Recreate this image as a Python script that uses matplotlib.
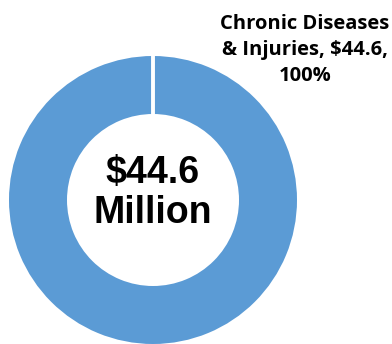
import matplotlib.pyplot as plt

categories = ["Chronic Diseases\n& Injuries"]
amounts = [44.6]
shares = [100]
total_label = "$44.6\nMillion"

cx, cy, r_out, ring = 153, 144, 144, 58

fig = plt.figure(figsize=(3.92, 3.44), dpi=100)
ax = fig.add_axes([0, 0, 1, 1])

# donut ring
ax.pie(amounts, colors=["#5B9BD5"], startangle=90, counterclock=False,
       center=(cx, cy), radius=r_out,
       wedgeprops=dict(width=ring, linewidth=0))
# thin white gap where the slice starts and ends
ax.plot([cx, cx], [cy + r_out - ring - 2, cy + r_out + 2],
        color="white", linewidth=2.8, solid_capstyle="butt")

ax.set_xlim(0, 392)
ax.set_ylim(0, 344)
ax.set_aspect("equal")
ax.axis("off")

ax.text(cx, cy + 7, total_label, ha="center", va="center", fontsize=27,
        fontweight="bold", family="Liberation Sans", linespacing=1.15)

label = f"{categories[0]}, ${amounts[0]},\n{shares[0]}%"
ax.text(305, 294, label, ha="center", va="center", fontsize=14.5,
        fontweight="bold", family="Open Sans", linespacing=1.4)

fig.savefig("out.png", dpi=100)
